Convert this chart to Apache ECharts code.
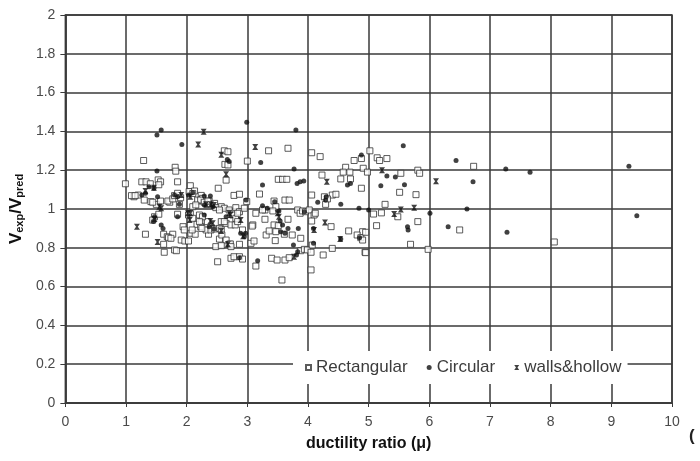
<!DOCTYPE html>
<html>
<head>
<meta charset="utf-8">
<script src="https://cdn.jsdelivr.net/npm/echarts@6/dist/echarts.min.js"></script>
<style>
  html, body { margin: 0; padding: 0; background: #fff; }
  #chart { width: 700px; height: 461px; }
</style>
</head>
<body>
<div id="chart"></div>
<script>
// tick labels
const xTicks = [0, 1, 2, 3, 4, 5, 6, 7, 8, 9, 10];
const yTicks = [0, 0.2, 0.4, 0.6, 0.8, 1, 1.2, 1.4, 1.6, 1.8, 2];

// Rectangular sections (hollow squares) [ductility, Vexp/Vpred]
const rectangular = [
  [0.99,1.13],[1.26,1.14],[1.33,1.14],[1.40,1.13],[1.53,1.15],[1.57,1.14],[1.85,1.14],[1.29,1.25],
  [1.81,1.215],[1.82,1.195],[1.54,1.125],[2.06,1.12],[2.04,1.09],[2.13,1.093],[2.10,1.08],[2.24,1.07],
  [2.52,1.107],[2.78,1.07],[2.87,1.076],[1.13,1.063],[1.20,1.072],[1.09,1.069],[1.15,1.069],[1.30,1.046],
  [1.41,1.038],[1.50,1.024],[1.57,1.041],[1.44,1.035],[1.72,1.035],[1.69,1.041],[1.77,1.052],[1.80,1.069],
  [1.85,1.081],[1.90,1.058],[1.88,1.024],[2.19,1.041],[2.26,1.055],[2.34,1.024],[2.37,1.041],[2.46,1.029],
  [2.18,1.046],[2.23,1.046],[2.10,1.012],[2.15,1.021],[2.29,1.035],[2.35,1.041],[2.57,1.012],[2.62,1.004],
  [2.70,0.995],[2.81,1.007],[2.87,0.986],[2.95,1.004],[2.99,1.038],[2.48,1.007],[2.54,0.995],[2.76,0.969],
  [2.81,0.952],[2.84,0.978],[1.47,0.96],[1.44,0.943],[1.54,0.973],[1.85,0.973],[2.03,0.969],[2.06,0.976],
  [2.10,0.952],[2.17,0.921],[2.24,0.935],[2.34,0.935],[2.21,0.969],[2.26,0.96],[2.57,0.935],[2.65,0.926],
  [2.73,0.918],[2.62,0.935],[2.80,0.918],[2.84,0.935],[1.32,0.87],[1.62,0.87],[1.68,0.857],[1.77,0.87],
  [1.70,0.852],[1.74,0.849],[1.62,0.818],[1.91,0.84],[1.97,0.835],[2.03,0.835],[1.94,0.909],[1.96,0.892],
  [2.07,0.875],[2.14,0.87],[2.09,0.892],[2.36,0.87],[2.32,0.892],[2.40,0.892],[2.46,0.897],[2.54,0.90],
  [2.57,0.892],[2.23,0.909],[2.25,0.90],[2.21,0.935],[2.54,0.845],[2.58,0.866],[2.65,0.84],[2.48,0.806],
  [2.57,0.811],[2.70,0.818],[2.72,0.82],[2.87,0.818],[2.73,0.806],[1.63,0.777],[1.80,0.789],[1.83,0.785],
  [2.51,0.728],[2.73,0.746],[2.78,0.754],[2.87,0.754],[2.92,0.742],[2.62,1.30],[2.63,1.23],[2.68,1.295],
  [2.68,1.227],[2.65,1.149],[3.35,1.30],[3.67,1.313],[4.06,1.29],[4.20,1.27],[3.0,1.247],[4.76,1.25],
  [4.88,1.26],[4.23,1.175],[4.62,1.215],[4.58,1.19],[4.69,1.19],[4.54,1.155],[4.70,1.155],[4.88,1.107],
  [3.51,1.153],[3.58,1.153],[3.65,1.153],[3.20,1.077],[4.06,1.072],[4.29,1.024],[4.40,1.072],[4.46,1.076],
  [4.27,1.063],[4.32,1.052],[3.62,1.046],[3.69,1.046],[3.44,1.041],[3.47,1.012],[3.14,0.978],[3.29,0.995],
  [3.42,0.99],[3.25,0.995],[3.83,0.995],[3.87,0.978],[3.91,0.99],[3.96,0.986],[4.02,0.995],[4.10,0.969],
  [4.12,0.978],[4.06,0.938],[3.67,0.947],[4.38,0.909],[3.29,0.947],[3.44,0.918],[3.51,0.914],[3.47,0.883],
  [3.09,0.918],[3.31,0.866],[3.36,0.887],[3.46,0.837],[3.61,0.87],[3.74,0.866],[3.88,0.849],[3.08,0.912],
  [2.92,0.892],[3.06,0.823],[3.11,0.835],[4.67,0.887],[4.90,0.883],[4.81,0.866],[4.87,0.852],[3.88,0.785],
  [3.94,0.792],[3.99,0.789],[4.05,0.777],[4.07,0.814],[4.40,0.797],[4.25,0.763],[3.40,0.746],[3.49,0.737],
  [3.62,0.737],[3.69,0.749],[4.05,0.686],[3.14,0.706],[3.57,0.634],[4.94,0.777],[5.02,1.30],[5.14,1.264],
  [5.18,1.25],[5.30,1.26],[6.73,1.22],[4.91,1.21],[4.98,1.19],[5.53,1.184],[5.81,1.20],[5.84,1.184],
  [5.51,1.086],[5.78,1.074],[5.27,1.024],[5.08,0.974],[5.21,0.98],[5.48,0.96],[5.13,0.914],[5.81,0.935],
  [6.50,0.892],[4.95,0.88],[4.90,0.84],[5.69,0.818],[5.98,0.792],[4.95,0.775],[8.06,0.83]
];

// Circular sections (filled dots)
const circular = [
  [1.58,1.407],[1.51,1.381],[1.92,1.333],[1.51,1.196],[1.46,1.107],[1.38,1.115],[1.32,1.081],[1.26,1.072],
  [1.52,1.063],[1.80,1.072],[1.85,1.063],[2.03,1.072],[2.10,1.084],[2.29,1.067],[2.39,1.067],[1.88,1.024],
  [2.29,1.021],[2.43,1.012],[1.85,0.96],[1.47,0.96],[1.45,0.935],[1.58,0.918],[1.61,0.90],[2.37,0.909],
  [2.45,0.897],[2.29,0.969],[2.65,0.96],[2.67,1.255],[2.70,1.245],[2.87,0.749],[2.99,1.447],[3.80,1.407],
  [3.22,1.24],[3.77,1.206],[4.70,1.132],[4.65,1.124],[3.82,1.132],[3.87,1.14],[3.93,1.144],[3.25,1.124],
  [4.16,1.035],[4.29,1.046],[4.30,1.063],[4.54,1.024],[3.45,1.038],[3.25,1.017],[3.33,1.004],[2.98,1.046],
  [3.94,0.986],[3.52,0.99],[3.54,0.938],[3.67,0.90],[3.84,0.90],[3.58,0.918],[3.55,0.883],[4.09,0.90],
  [3.62,0.875],[2.97,0.875],[2.89,0.875],[2.95,0.857],[4.09,0.823],[4.54,0.845],[4.85,0.852],[3.76,0.814],
  [3.83,0.78],[3.81,0.763],[3.17,0.733],[4.84,1.004],[5.0,0.995],[5.57,1.326],[4.88,1.278],[6.44,1.25],
  [5.30,1.17],[5.44,1.165],[6.72,1.14],[5.20,1.12],[5.59,1.125],[6.62,1.0],[6.01,0.978],[5.64,0.909],
  [5.65,0.892],[6.31,0.909],[7.26,1.206],[7.66,1.19],[9.29,1.22],[9.42,0.965],[7.28,0.88]
];

// walls & hollow sections (x marks)
const wallsHollow = [
  [2.28,1.398],[2.19,1.333],[3.13,1.32],[2.57,1.28],[2.65,1.179],[1.46,1.11],[1.32,1.093],[1.91,1.072],
  [2.06,1.063],[2.32,1.024],[2.40,1.024],[2.45,1.021],[1.55,1.012],[1.58,1.004],[2.06,0.978],[2.02,0.978],
  [2.05,0.943],[1.47,0.948],[2.39,0.938],[2.43,0.926],[2.72,0.969],[2.89,0.943],[2.68,0.818],[1.18,0.909],
  [1.52,0.83],[2.57,0.887],[2.70,0.98],[3.50,0.978],[3.52,0.96],[4.28,0.931],[4.10,0.892],[4.53,0.845],
  [3.77,0.754],[4.31,1.14],[5.22,1.20],[6.11,1.143],[5.53,0.998],[5.75,1.007],[5.42,0.974],[2.93,0.86]
];

const xMark = "path://M0,0L10,0L6.5,5L10,10L0,10L3.5,5Z";
const lineCol = "#3a3a3a";
const labelCol = "#4a4a4a";

var myChart = echarts.init(document.getElementById("chart"));
var option = {
  animation: false,
  backgroundColor: "#fff",
  textStyle: { fontFamily: "Liberation Sans, Arial, sans-serif" },
  grid: {
    left: 64, right: 28, top: 15, bottom: 58,
    show: true, borderColor: lineCol, borderWidth: 1.5
  },
  legend: {
    left: 293, top: 351,
    padding: [8, 6, 8, 12],
    backgroundColor: "#fff",
    itemWidth: 5, itemHeight: 5,
    itemGap: 19,
    textStyle: { fontSize: 17, color: "#3c3c3c", fontFamily: "Liberation Sans" },
    data: ["Rectangular", "Circular", "walls&hollow"]
  },
  xAxis: {
    type: "value",
    min: xTicks[0], max: xTicks[xTicks.length - 1], interval: 1,
    name: "ductility ratio (μ)",
    nameLocation: "middle", nameGap: 33,
    nameTextStyle: { fontSize: 16, fontWeight: "bold", color: "#111" },
    axisLine: { show: true, lineStyle: { color: lineCol, width: 1.5 } },
    axisTick: { show: true, length: 4, lineStyle: { color: lineCol } },
    axisLabel: { fontSize: 14, color: labelCol, margin: 12 },
    splitLine: { show: true, lineStyle: { color: lineCol, width: 1.5 } }
  },
  yAxis: {
    type: "value",
    min: yTicks[0], max: yTicks[yTicks.length - 1], interval: 0.2,
    name: "{v|V}{s|exp}{v|/V}{s|pred}",
    nameLocation: "middle", nameGap: 38, nameRotate: 90,
    nameTextStyle: {
      rich: {
        v: { fontSize: 17, fontWeight: "bold", color: "#111" },
        s: { fontSize: 11, fontWeight: "bold", color: "#111", verticalAlign: "bottom", padding: [6, 0, 0, 0] }
      }
    },
    axisLine: { show: true, lineStyle: { color: lineCol, width: 1.5 } },
    axisTick: { show: true, length: 5, lineStyle: { color: lineCol } },
    axisLabel: {
      fontSize: 14, color: labelCol, margin: 10,
      formatter: function (v) { return String(Math.round(v * 10) / 10); }
    },
    splitLine: { show: true, lineStyle: { color: lineCol, width: 1.5 } }
  },
  graphic: [
    { type: "text", left: 689, top: 428, style: { text: "(", fontSize: 17, fontWeight: "bold", fill: "#222" } }
  ],
  series: [
    {
      name: "Rectangular", type: "scatter", data: rectangular,
      symbol: "rect", symbolSize: 6,
      itemStyle: { color: "#fff", borderColor: "#333", borderWidth: 1 }
    },
    {
      name: "Circular", type: "scatter", data: circular,
      symbol: "circle", symbolSize: 5,
      itemStyle: { color: "#111" }
    },
    {
      name: "walls&hollow", type: "scatter", data: wallsHollow,
      symbol: xMark, symbolSize: 6,
      itemStyle: { color: "#111" }
    }
  ]
};
myChart.setOption(option);
</script>
</body>
</html>
